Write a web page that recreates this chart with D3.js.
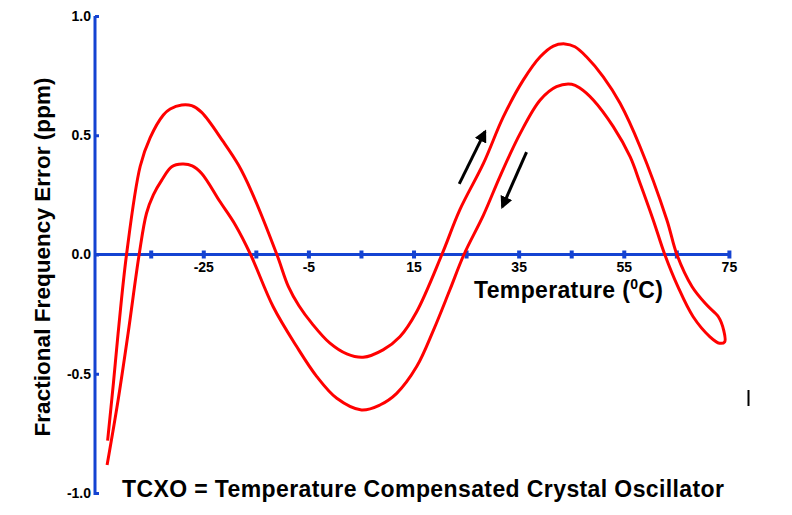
<!DOCTYPE html>
<html>
<head>
<meta charset="utf-8">
<script src="https://cdn.jsdelivr.net/npm/d3@7"></script>
<style>
  html, body { margin: 0; padding: 0; background: #ffffff; }
  svg { display: block; }
  text { font-family: "Liberation Sans", Arial, sans-serif; font-weight: bold; fill: #000; }
</style>
</head>
<body>
<svg id="chart" width="792" height="515"></svg>
<script>
// ---- data ----
const xTicks = [-35, -25, -15, -5, 5, 15, 25, 35, 45, 55, 65, 75];
const xTickLabels = ["", "-25", "", "-5", "", "15", "", "35", "", "55", "", "75"];
const yTicks = [1.0, 0.5, 0.0, -0.5, -1.0];
const yTickLabels = ["1.0", "0.5", "0.0", "-0.5", "-1.0"];

// upper (heating) branch, temperature in degC
const upperTemp = [-43.2, -42.1, -41.2, -39.6, -37.0, -35.1, -32.6, -31.3, -29.1, -27.2, -25.3, -21.2, -18.3, -15.8, -11.0, -8.8, -6.8, -4.3, -0.9, 2.3, 5.4, 9.2, 12.4, 15.6, 20.4, 23.8, 28.3, 32.1, 35.9, 39.1, 41.6, 43.8, 45.7, 47.9, 51.1, 54.3, 58.1, 63.2, 65.1, 68.0, 70.8, 73.0, 74.0, 74.2];
const upperErr  = [-0.78, -0.54, -0.33, 0.0, 0.37, 0.49, 0.585, 0.61, 0.627, 0.624, 0.596, 0.473, 0.375, 0.263, 0.0, -0.135, -0.215, -0.29, -0.372, -0.417, -0.431, -0.40, -0.345, -0.24, 0.0, 0.187, 0.382, 0.578, 0.732, 0.829, 0.874, 0.883, 0.871, 0.829, 0.745, 0.634, 0.452, 0.145, 0.0, -0.135, -0.212, -0.261, -0.317, -0.366];

// lower (cooling) branch
const lowerTemp = [-43.3, -41.2, -39.3, -37.2, -35.8, -34.5, -32.9, -31.0, -29.0, -27.1, -25.3, -21.8, -18.9, -16.0, -11.7, -7.2, -3.4, 0.4, 5.1, 8.6, 11.8, 15.6, 18.8, 21.9, 24.6, 28.3, 31.5, 35.3, 39.1, 42.2, 45.1, 46.7, 49.2, 53.0, 56.2, 58.1, 60.6, 62.8, 65.3, 68.2, 71.4, 73.2];
const lowerErr  = [-0.883, -0.61, -0.33, 0.0, 0.173, 0.25, 0.312, 0.368, 0.379, 0.372, 0.34, 0.221, 0.124, 0.0, -0.219, -0.387, -0.512, -0.603, -0.652, -0.631, -0.582, -0.47, -0.317, -0.149, 0.0, 0.165, 0.33, 0.508, 0.648, 0.704, 0.714, 0.697, 0.648, 0.536, 0.41, 0.299, 0.145, 0.0, -0.135, -0.261, -0.345, -0.372];

// direction arrows [fromTemp, fromErr, toTemp, toErr]
const arrowUp   = [23.7, 0.296, 28.6, 0.515];
const arrowDown = [36.5, 0.429, 31.9, 0.200];

const xTitle = "Temperature (";
const xTitleSup = "0";
const xTitleEnd = "C)";
const yTitle = "Fractional Frequency Error (ppm)";
const caption = "TCXO = Temperature Compensated Crystal Oscillator";

// ---- drawing ----
const svg = d3.select("#chart");
const blue = "#1443d2";
const x = d3.scaleLinear().domain([-45.6, 75.4]).range([95, 731]);
const y = d3.scaleLinear().domain([-1, 1]).range([493, 16]);

// defs: arrowhead
svg.append("defs").append("marker")
  .attr("id", "ah").attr("viewBox", "0 0 10 10")
  .attr("refX", 8).attr("refY", 5)
  .attr("markerWidth", 4.2).attr("markerHeight", 4.2)
  .attr("orient", "auto")
  .append("path").attr("d", "M0,0 L10,5 L0,10 Z").attr("fill", "#000");

// y axis
const yAxis = d3.axisLeft(y).tickValues(yTicks)
  .tickFormat((d, i) => yTickLabels[i])
  .tickSizeInner(-4).tickSizeOuter(0).tickPadding(4);
const gy = svg.append("g").attr("transform", `translate(${x(-45.6)},0)`).call(yAxis);
gy.select(".domain").remove();
gy.selectAll(".tick line").attr("stroke", blue).attr("stroke-width", 3);
gy.selectAll(".tick text").style("font-size", "14px").style("font-family", "Liberation Sans, Arial, sans-serif").style("font-weight", "bold").attr("fill", "#000");
svg.append("line").attr("x1", x(-45.6)).attr("x2", x(-45.6)).attr("y1", y(1)).attr("y2", y(-1) + 2)
  .attr("stroke", blue).attr("stroke-width", 3);

// x axis along zero
const xAxis = d3.axisBottom(x).tickValues(xTicks)
  .tickFormat((d, i) => xTickLabels[i])
  .tickSize(0).tickPadding(8);
const gx = svg.append("g").attr("transform", `translate(0,${y(0)})`).call(xAxis);
gx.select(".domain").remove();
gx.selectAll(".tick text").style("font-size", "14px").style("font-family", "Liberation Sans, Arial, sans-serif").style("font-weight", "bold").attr("fill", "#000");
gx.selectAll(".tick").append("rect").attr("x", -2).attr("y", -4).attr("width", 4).attr("height", 8).attr("fill", blue);
svg.insert("line", "g").attr("x1", x(-45.6)).attr("x2", x(75.4)).attr("y1", y(0)).attr("y2", y(0))
  .attr("stroke", blue).attr("stroke-width", 3);

// curve: upper branch then lower branch back
const pts = upperTemp.map((t, i) => [t, upperErr[i]])
  .concat(lowerTemp.map((t, i) => [t, lowerErr[i]]).reverse());
const line = d3.line().x(d => x(d[0])).y(d => y(d[1])).curve(d3.curveCatmullRom.alpha(0.5));
svg.append("path").datum(pts).attr("d", line)
  .attr("fill", "none").attr("stroke", "#ff0000").attr("stroke-width", 3).attr("stroke-linejoin", "round");

// arrows
[arrowUp, arrowDown].forEach(a => {
  svg.append("line").attr("x1", x(a[0])).attr("y1", y(a[1])).attr("x2", x(a[2])).attr("y2", y(a[3]))
    .attr("stroke", "#000").attr("stroke-width", 3).attr("marker-end", "url(#ah)");
});

// titles
const xt = svg.append("text").attr("x", 474).attr("y", 298).style("font-size", "23px")
  .attr("textLength", 189).attr("lengthAdjust", "spacing");
xt.append("tspan").text(xTitle);
xt.append("tspan").attr("dy", -9).style("font-size", "14px").text(xTitleSup);
xt.append("tspan").attr("dy", 9).text(xTitleEnd);

svg.append("text").attr("transform", "translate(50,257) rotate(-90)")
  .attr("text-anchor", "middle").style("font-size", "22.5px")
  .attr("textLength", 359).attr("lengthAdjust", "spacing").text(yTitle);

svg.append("text").attr("x", 122).attr("y", 497).style("font-size", "23px")
  .attr("textLength", 602).attr("lengthAdjust", "spacing").text(caption);

// small cursor mark
svg.append("line").attr("x1", 748.5).attr("x2", 748.5).attr("y1", 390).attr("y2", 406)
  .attr("stroke", "#000").attr("stroke-width", 2);
</script>
</body>
</html>
